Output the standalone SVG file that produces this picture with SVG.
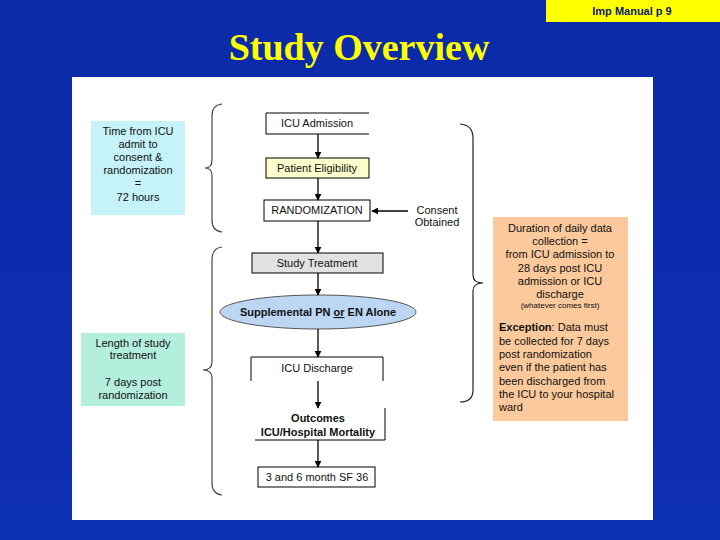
<svg xmlns="http://www.w3.org/2000/svg" width="720" height="540" viewBox="0 0 720 540">
<defs>
<linearGradient id="bg" x1="0" y1="0" x2="0" y2="1">
<stop offset="0" stop-color="#0b2aa8"/>
<stop offset="1" stop-color="#0d2fb4"/>
</linearGradient>
<marker id="ah" viewBox="0 0 10 10" refX="9" refY="5" markerWidth="7" markerHeight="7" orient="auto" markerUnits="userSpaceOnUse">
<path d="M0,0 L10,5 L0,10 z" fill="#000"/>
</marker>
</defs>
<style>
text{font-family:"Liberation Sans",Arial,sans-serif;fill:#111;}
.t{font-size:11px;text-anchor:middle;}
.b{font-weight:bold;}
.box{stroke:#000;stroke-width:1;}
.br{fill:none;stroke:#444;stroke-width:1.2;}
.c{stroke:#000;stroke-width:1.3;fill:none;marker-end:url(#ah);}
</style>
<rect width="720" height="540" fill="url(#bg)"/>
<g id="tag">
<rect x="546" y="0" width="174" height="22" fill="#ffff00"/>
<text x="632" y="15" font-size="11" text-anchor="middle" style="fill:#0a2070" font-weight="bold">Imp Manual p 9</text>
</g>
<text x="359" y="60" font-size="38" font-weight="bold" text-anchor="middle" style="fill:#ffff00;font-family:'Liberation Serif',serif">Study Overview</text>
<rect x="72" y="77" width="581" height="443" fill="#ffffff"/>

<g id="braces">
<path class="br" d="M222,104 Q212,105 212,116 L212,160 Q212,168 205,168 Q212,168 212,176 L212,220 Q212,231 222,232"/>
<path class="br" d="M222,247 Q212,248 212,260 L212,362 Q212,370 203,370 Q212,370 212,378 L212,483 Q212,494 222,495"/>
<path class="br" style="stroke:#222" d="M460,124 Q473,125 473,138 L473,275 Q473,283 483,283 Q473,283 473,291 L473,390 Q473,402 460,402"/>
</g>

<g id="time-box">
<rect x="91" y="121" width="94" height="94" fill="#c6f3fa"/>
<text class="t" x="138" y="135">Time from ICU</text>
<text class="t" x="138" y="148">admit to</text>
<text class="t" x="138" y="161">consent &amp;</text>
<text class="t" x="138" y="174">randomization</text>
<text class="t" x="138" y="187">=</text>
<text class="t" x="138" y="201">72 hours</text>
</g>

<g id="length-box">
<rect x="81" y="333" width="104" height="73" fill="#b4eedc"/>
<text class="t" x="133" y="347">Length of study</text>
<text class="t" x="133" y="359">treatment</text>
<text class="t" x="133" y="386">7 days post</text>
<text class="t" x="133" y="399">randomization</text>
</g>

<g id="duration-box">
<rect x="493" y="217" width="135" height="204" fill="#fbc99b"/>
<text class="t" x="560" y="232">Duration of daily data</text>
<text class="t" x="560" y="245">collection =</text>
<text class="t" x="560" y="258">from ICU admission to</text>
<text class="t" x="560" y="272">28 days post ICU</text>
<text class="t" x="560" y="285">admission or ICU</text>
<text class="t" x="560" y="298">discharge</text>
<text class="t" x="560" y="308" style="font-size:8px">(whatever comes first)</text>
<text x="499" y="331" font-size="11"><tspan font-weight="bold">Exception</tspan>: Data must</text>
<text x="499" y="345" font-size="11">be collected for 7 days</text>
<text x="499" y="358" font-size="11">post randomization</text>
<text x="499" y="371" font-size="11">even if the patient has</text>
<text x="499" y="385" font-size="11">been discharged from</text>
<text x="499" y="398" font-size="11">the ICU to your hospital</text>
<text x="499" y="411" font-size="11">ward</text>
</g>

<g id="icu-admission">
<path class="box" fill="#fff" d="M369,113 L266,113 L266,134 L369,134"/>
<text class="t" x="317" y="127">ICU Admission</text>
</g>
<g id="eligibility">
<rect class="box" x="266" y="158" width="103" height="20" fill="#ffffcc"/>
<text class="t" x="317" y="172">Patient Eligibility</text>
</g>
<g id="randomization">
<rect class="box" x="264" y="200" width="106" height="21" fill="#fff"/>
<text class="t" x="317" y="214">RANDOMIZATION</text>
</g>
<g id="consent">
<text class="t" x="437" y="214">Consent</text>
<text class="t" x="437" y="226">Obtained</text>
</g>
<g id="study-treatment">
<rect class="box" x="252" y="253" width="131" height="20" fill="#e2e2e2"/>
<text class="t" x="317" y="267">Study Treatment</text>
</g>
<g id="supplemental">
<ellipse class="box" cx="318" cy="312" rx="98" ry="17" fill="#bcd6f4" style="stroke:#555"/>
<text class="t b" x="318" y="316">Supplemental PN <tspan text-decoration="underline">or</tspan> EN Alone</text>
</g>
<g id="icu-discharge">
<path class="box" fill="#fff" d="M251,381 L251,357 L383,357 L383,381"/>
<text class="t" x="317" y="372">ICU Discharge</text>
</g>
<g id="outcomes">
<path class="box" fill="none" d="M385,408 L385,440 L255,440"/>
<text class="t b" x="318" y="422">Outcomes</text>
<text class="t b" x="318" y="436">ICU/Hospital Mortality</text>
</g>
<g id="sf36">
<rect class="box" x="258" y="467" width="117" height="20" fill="#fff"/>
<text class="t" x="317" y="481">3 and 6 month SF 36</text>
</g>

<g id="connectors">
<line class="c" x1="318" y1="134" x2="318" y2="158"/>
<line class="c" x1="318" y1="178" x2="318" y2="200"/>
<line class="c" x1="318" y1="221" x2="318" y2="253"/>
<line class="c" x1="318" y1="273" x2="318" y2="295"/>
<line class="c" x1="318" y1="329" x2="318" y2="357"/>
<line class="c" x1="318" y1="381" x2="318" y2="408"/>
<line class="c" x1="318" y1="440" x2="318" y2="467"/>
<line class="c" x1="408" y1="211" x2="372" y2="211"/>
</g>
</svg>
